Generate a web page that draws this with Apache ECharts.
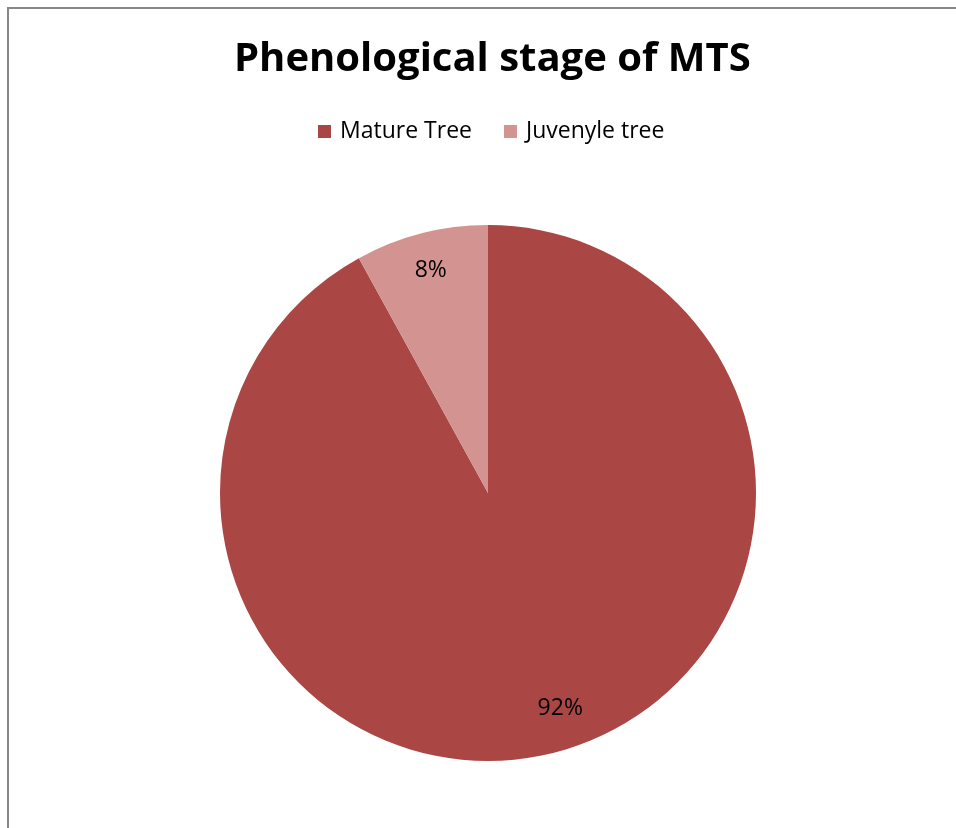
<!DOCTYPE html>
<html>
<head>
<meta charset="utf-8">
<script src="https://cdn.jsdelivr.net/npm/echarts@6/dist/echarts.min.js"></script>
<style>
  html, body { margin: 0; padding: 0; background: #fff; }
  #main { width: 956px; height: 828px; }
</style>
</head>
<body>
<div id="main"></div>
<script>
// data
var stages = ['Mature Tree', 'Juvenyle tree'];
var shares = [92, 8];
var colors = ['#AA4643', '#D39391'];

var cx = 488, cy = 493, r = 268;
var myChart = echarts.init(document.getElementById('main'));

myChart.setOption({
  animation: false,
  title: {
    text: 'Phenological stage of MTS',
    left: 229,
    top: 35,
    textStyle: { fontFamily: 'Open Sans', fontWeight: 'bold', fontSize: 40, color: '#000' }
  },
  legend: {
    data: stages,
    top: 115,
    left: 313,
    icon: 'rect',
    itemWidth: 13,
    itemHeight: 13,
    itemGap: 32,
    textStyle: { fontFamily: 'Open Sans', fontSize: 23, color: '#000', padding: [0, 0, 0, 4] }
  },
  // the gray frame on the top and left edges
  graphic: [{
    type: 'polyline',
    shape: { points: [[8, 828], [8, 8], [956, 8]] },
    style: { stroke: '#878787', lineWidth: 2, fill: null }
  }],
  series: [{
    type: 'pie',
    center: [cx, cy],
    radius: r,
    startAngle: 90,
    clockwise: true,
    color: colors,
    label: {
      show: true,
      position: 'inside',
      formatter: '{d}%',
      fontFamily: 'Open Sans',
      fontSize: 23,
      color: '#000'
    },
    labelLine: { show: false },
    emphasis: { disabled: true },
    labelLayout: function (p) {
      // push inside labels out toward the rim, like the original
      var lx = p.labelRect.x + p.labelRect.width / 2;
      var ly = p.labelRect.y + p.labelRect.height / 2;
      var x = cx + (lx - cx) * 1.68, y = cy + (ly - cy) * 1.68;
      if (p.dataIndex === 0) { x += 15; y -= 7; }
      return { x: x, y: y };
    },
    data: stages.map(function (s, i) { return { name: s, value: shares[i] }; })
  }]
});
</script>
</body>
</html>
